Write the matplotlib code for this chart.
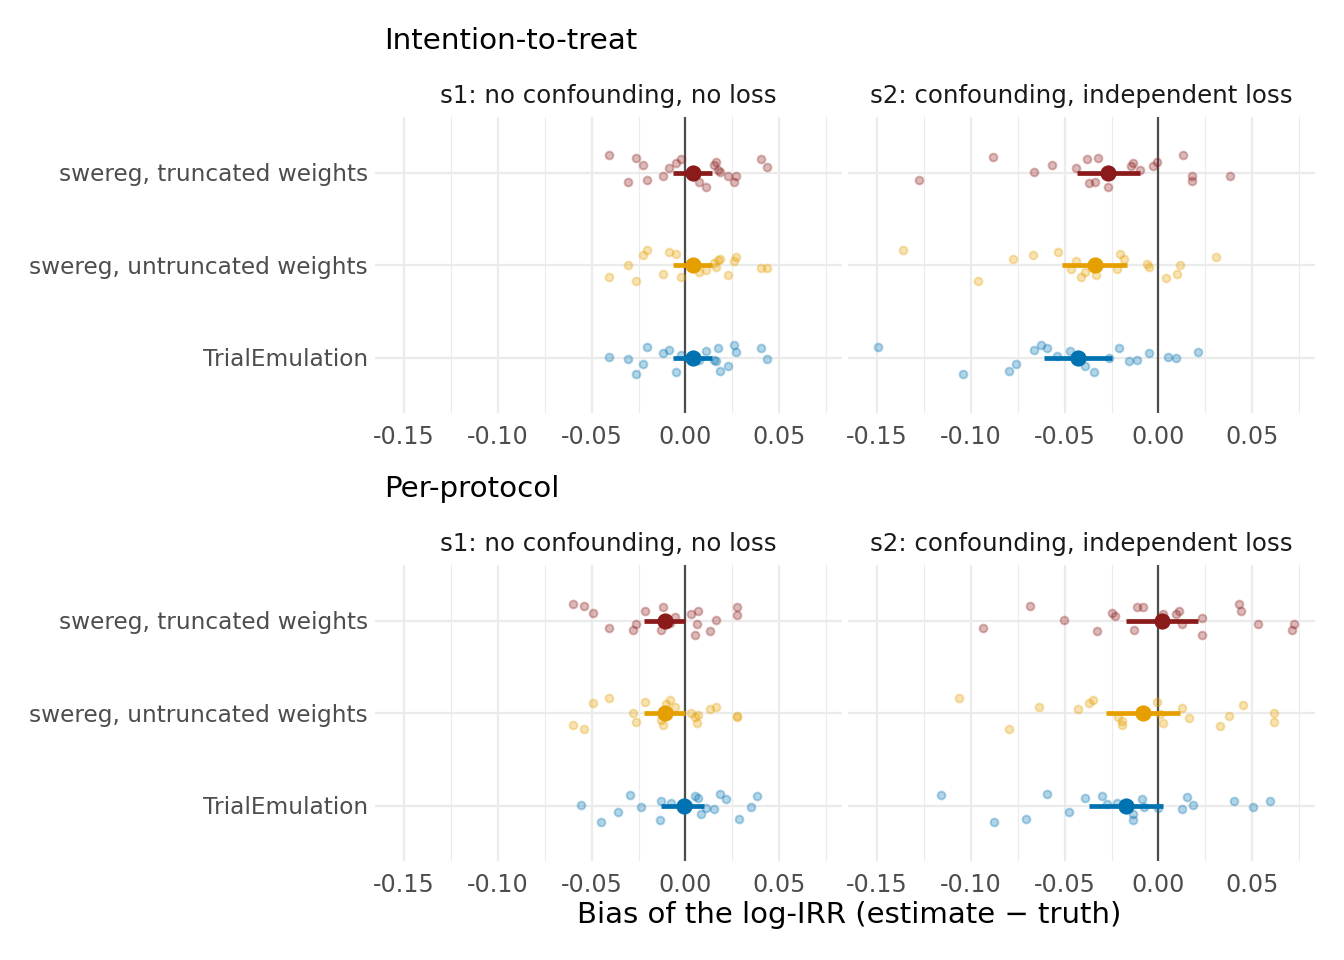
import matplotlib
matplotlib.use("Agg")
import matplotlib.pyplot as plt

# method order from bottom to top
methods = ["TrialEmulation", "swereg, untruncated weights", "swereg, truncated weights"]
colors = ["#0072B2", "#E69F00", "#8B1A1A"]
xticks = [-0.15, -0.10, -0.05, 0.00, 0.05]
xtick_labels = ["-0.15", "-0.10", "-0.05", "0.00", "0.05"]

# ---- Intention-to-treat, s1 (same estimates for all three methods)
itt_s1 = [-0.0408, -0.0305, -0.0266, -0.0227, -0.0204, -0.0119, -0.0085, -0.0048, -0.0023, 0.0074,
          0.0110, 0.0154, 0.0163, 0.0172, 0.0183, 0.0225, 0.0257, 0.0271, 0.0401, 0.0433]
itt_s1_trunc_jit = [0.184, -0.101, 0.162, 0.083, -0.079, -0.043, 0.050, 0.105, 0.151, -0.101,
                    -0.155, 0.076, 0.112, 0.032, 0.004, -0.036, -0.108, -0.036, 0.148, 0.061]
itt_s1_untr_jit = [-0.133, 0.004, -0.169, 0.112, 0.162, -0.094, 0.141, 0.123, -0.130, -0.079,
                   -0.054, 0.022, -0.025, 0.058, 0.068, -0.105, 0.040, 0.086, -0.032, -0.032]
itt_s1_te_jit = [0.007, -0.011, -0.173, -0.068, 0.115, 0.047, 0.083, -0.155, 0.022, -0.025,
                 0.068, -0.025, -0.040, 0.101, -0.148, -0.090, 0.130, 0.058, 0.105, -0.011]
itt_s1_summary = [(0.0041, -0.0066, 0.0144), (0.0041, -0.0066, 0.0144), (0.0041, -0.0066, 0.0144)]

# ---- Intention-to-treat, s2
itt_s2_trunc = [-0.1275, -0.0880, -0.0665, -0.0565, -0.0437, -0.0382, -0.0372, -0.0336, -0.0320, -0.0267,
                -0.0146, -0.0137, -0.0096, -0.0030, -0.0009, 0.0133, 0.0178, 0.0180, 0.0382, -0.0280]
itt_s2_trunc_jit = [-0.079, 0.166, 0.007, 0.083, 0.050, 0.148, -0.112, -0.101, 0.155, -0.155,
                    0.068, 0.105, 0.032, 0.068, 0.112, 0.184, -0.036, -0.097, -0.036, 0.0]
itt_s2_untr = [-0.1360, -0.0962, -0.0773, -0.0668, -0.0537, -0.0464, -0.0437, -0.0411, -0.0393, -0.0331,
               -0.0222, -0.0206, -0.0183, -0.0062, -0.0048, 0.0041, 0.0098, 0.0117, 0.0308, -0.0340]
itt_s2_untr_jit = [0.162, -0.169, 0.068, 0.112, 0.141, -0.040, 0.047, -0.130, -0.076, -0.108,
                   -0.040, 0.123, 0.065, 0.007, -0.025, -0.137, -0.097, 0.004, 0.086, 0.010]
itt_s2_te = [-0.1497, -0.1040, -0.0796, -0.0757, -0.0661, -0.0626, -0.0592, -0.0539, -0.0471, -0.0389,
             -0.0345, -0.0263, -0.0208, -0.0158, -0.0112, -0.0052, 0.0053, 0.0094, 0.0210, -0.0420]
itt_s2_te_jit = [0.115, -0.173, -0.148, -0.068, 0.083, 0.130, 0.105, 0.014, 0.068, -0.097,
                 -0.155, -0.007, 0.101, -0.036, -0.025, 0.050, 0.007, -0.007, 0.058, -0.010]
itt_s2_summary = [(-0.0427, -0.0608, -0.0249), (-0.0338, -0.0512, -0.0169), (-0.0267, -0.0434, -0.0096)]

# ---- Per-protocol, s1 (swereg truncated / untruncated share estimates)
pp_s1_sw = [-0.0598, -0.0543, -0.0495, -0.0410, -0.0280, -0.0262, -0.0213, -0.0131, -0.0122, -0.0101,
            -0.0080, -0.0057, 0.0028, 0.0053, 0.0062, 0.0069, 0.0133, 0.0163, 0.0273, 0.0273]
pp_s1_trunc_jit = [0.180, 0.162, 0.083, -0.083, -0.105, -0.043, 0.101, -0.105, 0.148, 0.020,
                   -0.030, 0.040, 0.068, -0.159, -0.040, 0.105, -0.115, 0.004, 0.148, 0.058]
pp_s1_untr_jit = [-0.133, -0.169, 0.112, 0.162, 0.004, -0.097, 0.123, -0.079, -0.133, 0.094,
                  0.141, 0.065, 0.004, -0.043, -0.105, -0.025, 0.040, 0.068, -0.036, -0.040]
pp_s1_te = [-0.0555, -0.0449, -0.0362, -0.0293, -0.0236, -0.0138, -0.0131, 0.0051, 0.0067, 0.0083,
            0.0110, 0.0154, 0.0186, 0.0216, 0.0287, 0.0349, 0.0383, -0.0076, -0.0005, 0.0012]
pp_s1_te_jit = [0.004, -0.173, -0.072, 0.112, -0.011, -0.159, 0.047, 0.105, 0.079, -0.097,
                -0.025, -0.036, 0.126, 0.065, -0.148, -0.011, 0.101, 0.030, -0.020, 0.010]
pp_s1_summary = [(-0.0009, -0.0128, 0.0101), (-0.0110, -0.0222, 0.0000), (-0.0110, -0.0222, 0.0000)]

# ---- Per-protocol, s2
pp_s2_trunc = [-0.0935, -0.0686, -0.0505, -0.0327, -0.0247, -0.0229, -0.0128, -0.0112, -0.0082, 0.0025,
               0.0096, 0.0108, 0.0124, 0.0231, 0.0231, 0.0430, 0.0443, 0.0533, 0.0711, 0.0724]
pp_s2_trunc_jit = [-0.083, 0.162, 0.004, -0.115, 0.083, 0.047, -0.105, 0.144, 0.148, 0.068,
                   0.068, 0.105, -0.043, 0.029, -0.159, 0.180, 0.105, -0.043, -0.105, -0.043]
pp_s2_untr = [-0.1061, -0.0796, -0.0636, -0.0427, -0.0368, -0.0350, -0.0217, -0.0196, -0.0192, -0.0009,
              0.0023, 0.0128, 0.0162, 0.0329, 0.0379, 0.0452, 0.0619, 0.0619, 0.0009, -0.0100]
pp_s2_untr_jit = [0.162, -0.169, 0.065, 0.040, 0.112, 0.137, -0.040, -0.083, -0.133, 0.123,
                  -0.108, 0.058, -0.054, -0.141, -0.029, 0.086, 0.000, -0.097, -0.010, 0.020]
pp_s2_te = [-0.1157, -0.0876, -0.0706, -0.0594, -0.0475, -0.0389, -0.0302, -0.0276, -0.0222, -0.0133,
            -0.0133, -0.0085, -0.0075, 0.0000, 0.0124, 0.0153, 0.0185, 0.0402, 0.0507, 0.0594]
pp_s2_te_jit = [0.112, -0.177, -0.148, 0.126, -0.072, 0.079, 0.101, 0.011, 0.022, -0.094,
                -0.159, 0.065, -0.014, -0.025, -0.040, 0.097, 0.004, 0.054, -0.014, 0.047]
pp_s2_summary = [(-0.0171, -0.0368, 0.0023), (-0.0080, -0.0277, 0.0116), (0.0020, -0.0171, 0.0210)]

W, H = 1344, 960
fig = plt.figure(figsize=(W / 200, H / 200), dpi=200)


def px_axes(x0, y0, x1, y1):
    return fig.add_axes([x0 / W, 1 - y1 / H, (x1 - x0) / W, (y1 - y0) / H])


def panel(ax, series, summary, strip, show_y):
    ax.set_xlim(-0.1655, 0.0835)
    ax.set_ylim(0.4, 3.6)
    ax.set_facecolor("white")
    for s in ax.spines.values():
        s.set_visible(False)
    ax.set_xticks(xticks)
    ax.set_xticklabels(xtick_labels)
    ax.set_xticks([-0.125, -0.075, -0.025, 0.025, 0.075], minor=True)
    ax.set_yticks([1, 2, 3])
    ax.set_yticklabels(methods if show_y else [])
    ax.tick_params(length=0, which="both", labelsize=8.6, colors="#4D4D4D", pad=4.5)
    ax.tick_params(axis="y", labelsize=8.4, pad=2.5)
    ax.grid(True, which="major", color="#EBEBEB", lw=0.8, zorder=0)
    ax.grid(True, which="minor", axis="x", color="#EBEBEB", lw=0.4, zorder=0)
    ax.set_axisbelow(True)
    ax.axvline(0, color="#4D4D4D", lw=0.8, zorder=1)
    for i, (vals, jit) in enumerate(series):
        ys = [i + 1 + j for j in jit]
        ax.scatter(vals, ys, s=8, color=colors[i], alpha=0.3, linewidths=0.7, zorder=2)
        m, lo, hi = summary[i]
        ax.plot([lo, hi], [i + 1, i + 1], color=colors[i], lw=1.7, solid_capstyle="butt", zorder=3)
        ax.scatter([m], [i + 1], s=34, color=colors[i], linewidths=0, zorder=4)
    ax.set_title(strip, fontsize=8.8, color="#1A1A1A", pad=5)


a1 = px_axes(375, 117, 842, 413)
panel(a1, [(itt_s1, itt_s1_te_jit), (itt_s1, itt_s1_untr_jit), (itt_s1, itt_s1_trunc_jit)],
      itt_s1_summary, "s1: no confounding, no loss", True)
a2 = px_axes(848, 117, 1315, 413)
panel(a2, [(itt_s2_te, itt_s2_te_jit), (itt_s2_untr, itt_s2_untr_jit), (itt_s2_trunc, itt_s2_trunc_jit)],
      itt_s2_summary, "s2: confounding, independent loss", False)
a3 = px_axes(375, 565, 842, 861)
panel(a3, [(pp_s1_te, pp_s1_te_jit), (pp_s1_sw, pp_s1_untr_jit), (pp_s1_sw, pp_s1_trunc_jit)],
      pp_s1_summary, "s1: no confounding, no loss", True)
a4 = px_axes(848, 565, 1315, 861)
panel(a4, [(pp_s2_te, pp_s2_te_jit), (pp_s2_untr, pp_s2_untr_jit), (pp_s2_trunc, pp_s2_trunc_jit)],
      pp_s2_summary, "s2: confounding, independent loss", False)

fig.text(384 / W, 1 - 41 / H, "Intention-to-treat", fontsize=10.6, va="center", ha="left")
fig.text(384 / W, 1 - 489 / H, "Per-protocol", fontsize=10.6, va="center", ha="left")
fig.text(849 / W, 1 - 915 / H, "Bias of the log-IRR (estimate \u2212 truth)", fontsize=10.5,
         va="center", ha="center")

fig.savefig("out.png", dpi=200, facecolor="white")
